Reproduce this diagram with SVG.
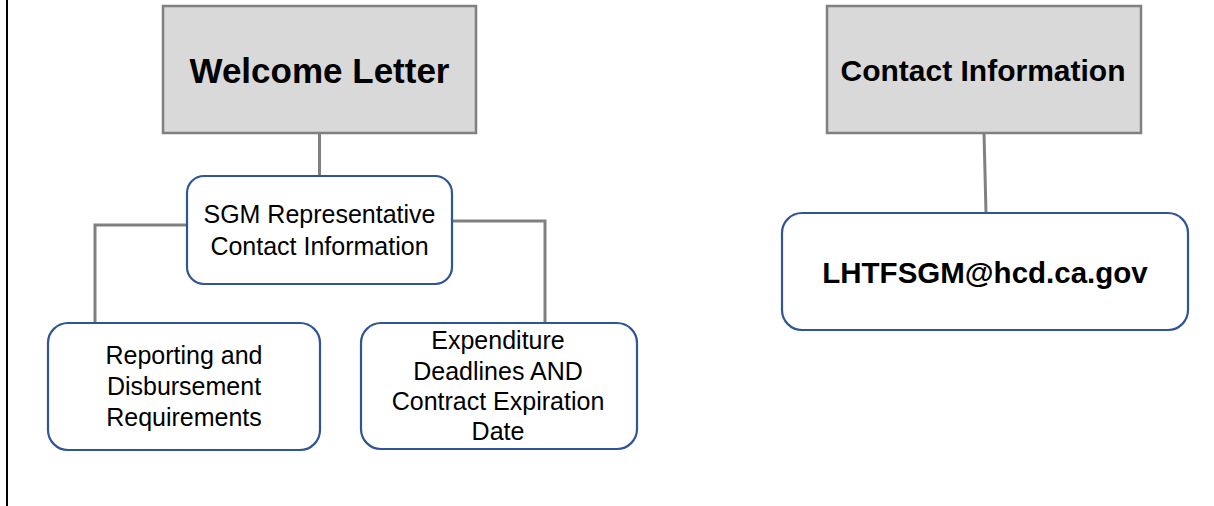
<svg xmlns="http://www.w3.org/2000/svg" width="1214" height="506" viewBox="0 0 1214 506">
<style>
.head{fill:#d9d9d9;stroke:#808080;stroke-width:2.5}
.sub{fill:#ffffff;stroke:#2f5597;stroke-width:2.2}
.conn{fill:none;stroke:#808080;stroke-width:3}
.bt{font-family:"Liberation Sans",Arial,sans-serif;font-weight:bold;fill:#000;text-anchor:middle}
.rt{font-family:"Liberation Sans",Arial,sans-serif;font-size:25px;fill:#000;text-anchor:middle}
</style>
<rect width="1214" height="506" fill="#ffffff"/>
<line x1="7" y1="0" x2="7" y2="506" stroke="#000" stroke-width="2"/>
<g id="connectors">
<line class="conn" x1="319.5" y1="133" x2="319.5" y2="176"/>
<polyline class="conn" points="187,225 95,225 95,323"/>
<polyline class="conn" points="452,221 545,221 545,323"/>
<line class="conn" x1="984" y1="133" x2="986" y2="213"/>
</g>
<g id="welcome-letter">
<rect class="head" x="163" y="6" width="313" height="127"/>
<text class="bt" x="319.5" y="83" font-size="35">Welcome Letter</text>
</g>
<g id="sgm-rep">
<rect class="sub" x="187" y="176" width="265" height="108" rx="17"/>
<text class="rt" x="319.5" y="223">SGM Representative</text>
<text class="rt" x="319.5" y="255">Contact Information</text>
</g>
<g id="reporting">
<rect class="sub" x="48" y="323" width="272" height="127" rx="20"/>
<text class="rt" x="184" y="364">Reporting and</text>
<text class="rt" x="184" y="395">Disbursement</text>
<text class="rt" x="184" y="426">Requirements</text>
</g>
<g id="expenditure">
<rect class="sub" x="361" y="323" width="276" height="126" rx="20"/>
<text class="rt" x="498" y="349">Expenditure</text>
<text class="rt" x="498" y="380">Deadlines AND</text>
<text class="rt" x="498" y="410">Contract Expiration</text>
<text class="rt" x="498" y="440">Date</text>
</g>
<g id="contact-information">
<rect class="head" x="827" y="6" width="314" height="127"/>
<text class="bt" x="983" y="81" font-size="30">Contact Information</text>
</g>
<g id="email">
<rect class="sub" x="782" y="213" width="406" height="117" rx="20"/>
<text class="bt" x="985" y="283" font-size="29.5">LHTFSGM@hcd.ca.gov</text>
</g>
</svg>
